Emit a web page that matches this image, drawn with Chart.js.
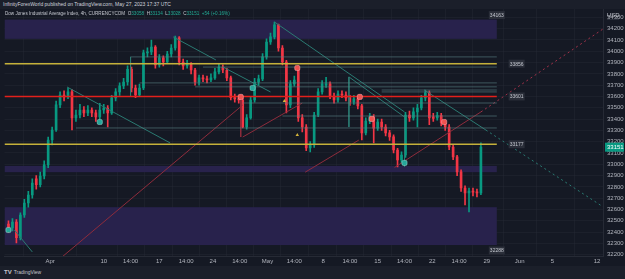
<!DOCTYPE html>
<html>
<head>
<meta charset="utf-8">
<script src="https://cdn.jsdelivr.net/npm/chart.js@4/dist/chart.umd.min.js"></script>
<style>
  html, body { margin: 0; padding: 0; background: #151924; }
  #wrap { position: relative; width: 625px; height: 279px; overflow: hidden; font-family: "Liberation Sans", Arial, sans-serif; }
  #top { position: absolute; left: 0; top: 0; width: 625px; height: 9px; background: #1b1f2a; color: #d1d4dc; font-size: 5px; line-height: 9px; padding-left: 3px; box-sizing: border-box; }
  #legend { position: absolute; left: 5px; top: 11px; color: #c3c6ce; font-size: 4.6px; white-space: nowrap; z-index: 2; }
  #legend b { color: #22ab94; font-weight: normal; }
  #foot { position: absolute; left: 0; top: 266px; width: 625px; height: 13px; background: #1b1f2a; color: #c3c6ce; font-size: 5px; line-height: 13px; padding-left: 4px; box-sizing: border-box; }
  #foot span { font-weight: bold; font-size: 6px; margin-right: 2px; }
  canvas { position: absolute; left: 0; top: 0; }
</style>
</head>
<body>
<div id="wrap">
  <canvas id="chart" width="625" height="279"></canvas>
  <div id="top">InfinityForexWorld published on TradingView.com, May 27, 2023 17:37 UTC</div>
  <div id="legend">Dow Jones Industrial Average Index, 4h, CURRENCYCOM &nbsp;O<b>33058</b> &nbsp;H<b>33134</b> &nbsp;L<b>33028</b> &nbsp;C<b>33151</b> &nbsp;<b>+54 (+0.16%)</b></div>
  <div id="foot"><span>TV</span>TradingView</div>
</div>
<script>
// 4h candles, one every few bars
const opens = [32470,32436,32489,32350,32551,32657,32728,32870,32820,32896,
  32994,33215,33303,33525,33613,33596,33640,33410,33436,33480,
  33454,33480,33454,33419,33480,33498,33454,33587,33640,33693,
  33728,33840,33675,33613,33675,33985,33994,34038,33879,33941,
  33905,33976,34029,34118,33905,33870,33887,33834,33728,33764,
  33755,33746,33764,33817,33861,33834,33764,33590,33578,33569,
  33330,33410,33569,33728,33755,33950,34082,34127,34233,34029,
  33905,33525,33711,33840,33410,33330,33144,33170,33436,33640,
  33700,33711,33604,33569,33622,33613,33587,33551,33578,33516,
  33277,33383,33419,33320,33374,33330,33277,33242,33126,33038,
  33082,33436,33410,33463,33498,33587,33631,33420,33410,33430,
  33365,33330,33153,33065,32932,32790,32746,32762,32754,32746];
const closes = [32436,32489,32350,32551,32657,32728,32834,32820,32896,32994,
  33215,33303,33525,33613,33596,33640,33410,33436,33480,33454,
  33480,33454,33419,33480,33498,33454,33587,33640,33693,33728,
  33840,33675,33613,33675,33985,33994,34038,33879,33941,33905,
  33976,34029,34118,33905,33870,33887,33834,33728,33764,33755,
  33746,33764,33817,33861,33834,33764,33590,33578,33569,33330,
  33410,33569,33728,33755,33950,34082,34127,34233,34029,33905,
  33525,33711,33746,33410,33330,33144,33170,33436,33640,33711,
  33711,33604,33569,33622,33613,33587,33551,33578,33516,33277,
  33383,33419,33320,33374,33330,33277,33242,33126,33038,33082,
  33436,33410,33463,33498,33587,33631,33410,33405,33430,33365,
  33330,33153,33065,32932,32790,32746,32762,32754,32746,33151];
const highs = [32500,32520,32510,32570,32690,32760,32870,32900,32930,33030,
  33240,33330,33560,33640,33650,33675,33660,33480,33530,33510,
  33520,33500,33480,33540,33530,33520,33610,33670,33720,33760,
  33870,33860,33700,33710,34010,34030,34100,34050,33970,33960,
  34000,34060,34135,34130,33930,33920,33900,33850,33790,33790,
  33780,33800,33850,33890,33880,33850,33780,33620,33600,33590,
  33440,33600,33760,33790,33980,34110,34160,34259,34240,34050,
  33920,33740,33780,33870,33440,33350,33200,33460,33670,33740,
  33770,33730,33630,33650,33650,33640,33610,33610,33600,33530,
  33410,33450,33440,33400,33400,33350,33300,33260,33140,33110,
  33460,33470,33500,33530,33610,33657,33650,33450,33460,33450,
  33390,33350,33170,33080,32950,32810,32790,32790,32780,33190];
const lows = [32400,32410,32303,32330,32530,32620,32700,32780,32800,32870,
  32970,33170,33290,33500,33560,33580,33303,33380,33410,33420,
  33430,33420,33380,33400,33450,33330,33440,33560,33610,33670,
  33700,33640,33590,33600,33660,33950,33970,33850,33860,33870,
  33890,33950,34010,33880,33840,33850,33800,33700,33700,33730,
  33720,33730,33750,33800,33810,33740,33570,33550,33540,33321,
  33310,33400,33550,33700,33740,33930,34060,34110,34000,33880,
  33454,33500,33690,33380,33286,33120,33109,33150,33420,33620,
  33680,33580,33540,33550,33590,33560,33520,33530,33490,33215,
  33260,33360,33188,33300,33300,33250,33210,33100,32976,33010,
  33060,33380,33390,33330,33480,33560,33350,33380,33390,33340,
  33300,33130,33040,32900,32760,32640,32578,32720,32710,32730];

// time axis (positions in candle index units)
const tickPos = [10.5, 24, 30.75, 38, 44.75, 51.5, 58.25, 65.25, 72, 79.25, 86, 93, 99.75, 106.75, 113.5, 120.5, 128.75, 137, 148.25];
const tickText = ['Apr','10','14:00','17','14:00','24','14:00','May','14:00','8','14:00','15','14:00','22','14:00','29','Jun','5','12'];

// drawings
const zoneTops = [34280, 32985, 32620];
const zoneBottoms = [34110, 32930, 32285];
const zoneEnd = 123;
const levelPrices = [33890, 33600, 33177];
const levelColors = ['#c5b13a', '#e3201b', '#c5b13a'];
const grayLevels = [[30.75,33950],[49,33860],[33,33720],[47,33685],[94,33657],[94,33640],[59,33542],[69,33427],[17,33321]];
const tealSegs = [[1.5,32418,6,32224],[14.75,33684,40.75,33188],[41.5,34127,52.25,33923],[54,33861,66,33640],
  [67,34259,99.75,33463],[85.75,33773,99.75,33419],[104.75,33657,120.25,33303],
  [30.75,33950,30.75,33600],[85.75,33773,85.75,33330],[99.75,33419,99.75,32980]];
const tealDotted = [[120.25,33303,150.25,32612]];
const maroonSegs = [[12.5,32150,59,33524],[59,33241,74,33542],[74.75,32930,88.25,33214],[97.25,32972,119,33463],[58.5,33600,58.5,33241]];
const maroonDotted = [[119,33463,150.25,34209]];
const buyMarks = [[0,32418],[23,33374],[61.5,33675],[99.75,33012]];
const sellMarks = [[58.5,33596],[72.75,33852],[88.5,33596],[91.5,33401],[109.75,33374]];
const smallMarks = [[69.5,33560],[72.75,33259]];
const boxTexts = ['34163','33856','33601','33177','32288'];
const boxPos = [[123,34320],[128,33890],[128,33600],[128,33177],[123,32237]];

const UP = '#089981', DOWN = '#f23645';
const candleColors = opens.map((o, i) => closes[i] >= o ? UP : DOWN);

const segSets = (segs, color, dash, width) => segs.map(s => ({
  type: 'line', data: [{x: s[0], y: s[1]}, {x: s[2], y: s[3]}],
  borderColor: color, borderWidth: width || 1, borderDash: dash || [], pointRadius: 0, order: 0
}));

const levelSets = [];
levelPrices.forEach((p, k) => levelSets.push(...segSets([[-1, p, zoneEnd, p]], levelColors[k], [], 1.5)));
const graySets = segSets(grayLevels.map(g => [g[0], g[1], zoneEnd, g[1]]), 'rgba(90,130,134,0.6)');

const drawings = {
  id: 'drawings',
  beforeDatasetsDraw(chart) {
    const {ctx, chartArea, scales: {x, y}} = chart;
    ctx.save();
    ctx.beginPath();
    ctx.rect(chartArea.left, chartArea.top, chartArea.right - chartArea.left, chartArea.bottom - chartArea.top);
    ctx.clip();
    ctx.fillStyle = '#28224c';
    zoneTops.forEach((t, k) => {
      const x0 = x.getPixelForValue(-1), x1 = x.getPixelForValue(zoneEnd);
      const y0 = y.getPixelForValue(t), y1 = y.getPixelForValue(zoneBottoms[k]);
      ctx.fillRect(x0, y0, x1 - x0, y1 - y0);
    });
    ctx.restore();
  },
  afterDatasetsDraw(chart) {
    const {ctx, scales: {x, y}} = chart;
    ctx.save();
    ctx.font = '5px "Liberation Sans", Arial, sans-serif';
    ctx.textAlign = 'center';
    ctx.textBaseline = 'middle';
    boxTexts.forEach((t, k) => {
      const cx = x.getPixelForValue(boxPos[k][0]), cy = y.getPixelForValue(boxPos[k][1]);
      ctx.fillStyle = '#2a2e39';
      ctx.fillRect(cx - 8, cy - 4, 16, 8);
      ctx.fillStyle = '#c3c6ce';
      ctx.fillText(t, cx, cy + 0.5);
    });
    ctx.restore();
  },
  afterDraw(chart) {
    const {ctx, chartArea, scales: {y}} = chart;
    ctx.save();
    ctx.font = '6px "Liberation Sans", Arial, sans-serif';
    ctx.textBaseline = 'middle';
    ctx.fillStyle = '#c3c6ce';
    ctx.fillText('USD', chartArea.right + 4, 15);
    ctx.fillStyle = '#3a3f4b';
    ctx.fillRect(chartArea.right + 4, 19, 12, 0.6);
    const last = closes[closes.length - 1];
    const ly = y.getPixelForValue(last);
    ctx.fillStyle = UP;
    ctx.fillRect(chartArea.right + 2, ly - 4.5, 19, 9);
    ctx.fillStyle = '#ffffff';
    ctx.fillText(String(last), chartArea.right + 4, ly + 0.5);
    ctx.restore();
  }
};

new Chart(document.getElementById('chart'), {
  type: 'bar',
  data: {
    datasets: [
      {
        data: opens.map((o, i) => ({x: i, y: [lows[i], highs[i]]})),
        backgroundColor: candleColors, barThickness: 1, grouped: false, order: 2
      },
      {
        data: opens.map((o, i) => ({x: i, y: [o, closes[i]]})),
        backgroundColor: candleColors, barThickness: 2, minBarLength: 1, grouped: false, order: 1
      },
      ...graySets,
      ...levelSets,
      ...segSets(tealSegs, '#2b7a72'),
      ...segSets(tealDotted, '#2b7a72', [2, 3]),
      ...segSets(maroonSegs, '#8e2c3c'),
      ...segSets(maroonDotted, '#a0324a', [2, 3]),
      {
        type: 'scatter', data: buyMarks.map(m => ({x: m[0], y: m[1]})),
        pointStyle: 'rectRounded', pointRadius: 3, backgroundColor: '#26a69a', borderColor: '#9fe0d6', borderWidth: 0.5, order: -1
      },
      {
        type: 'scatter', data: sellMarks.map(m => ({x: m[0], y: m[1]})),
        pointStyle: 'rectRounded', pointRadius: 3, backgroundColor: '#ef5350', borderColor: '#ffb0b0', borderWidth: 0.5, order: -1
      },
      {
        type: 'scatter', data: smallMarks.map(m => ({x: m[0], y: m[1]})),
        pointStyle: 'triangle', pointRadius: 2, backgroundColor: '#d4b43a', borderWidth: 0, order: -1
      }
    ]
  },
  options: {
    responsive: false,
    animation: false,
    events: [],
    layout: { padding: { top: 9, left: 0, right: 0, bottom: 13 } },
    plugins: { legend: { display: false }, tooltip: { enabled: false } },
    scales: {
      x: {
        type: 'linear', min: -1, max: 149.75, offset: false,
        afterFit: s => { s.height = 10; },
        afterBuildTicks: s => { s.ticks = tickPos.map(v => ({value: v})); },
        grid: { color: 'rgba(42,46,57,0.35)', drawTicks: false },
        border: { display: true, color: '#262a35' },
        ticks: {
          autoSkip: false, maxRotation: 0, padding: 2, color: '#b2b5be',
          font: { size: 6, family: '"Liberation Sans", Arial, sans-serif' },
          callback: v => { const k = tickPos.indexOf(v); return k >= 0 ? tickText[k] : ''; }
        }
      },
      y: {
        type: 'linear', position: 'right', min: 32188, max: 34374,
        afterFit: s => { s.width = 22; },
        grid: { color: 'rgba(42,46,57,0.35)', drawTicks: false },
        border: { display: true, color: '#262a35' },
        ticks: {
          stepSize: 100, includeBounds: false, padding: 4, color: '#b2b5be',
          font: { size: 6, family: '"Liberation Sans", Arial, sans-serif' },
          callback: v => String(v)
        }
      }
    }
  },
  plugins: [drawings]
});
</script>
</body>
</html>
